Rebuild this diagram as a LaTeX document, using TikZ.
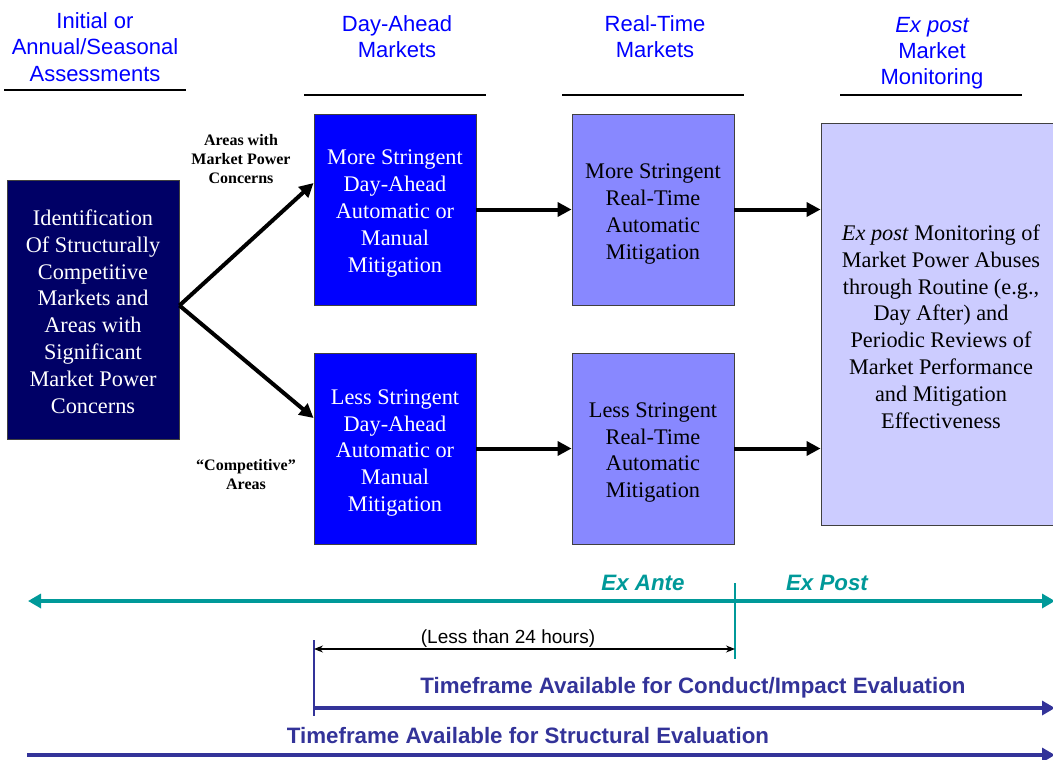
\documentclass[tikz,border=0pt]{standalone}
\usepackage{fontspec}
\setmainfont{Liberation Serif}
\setsansfont{Liberation Sans}
\usetikzlibrary{arrows.meta,calc}
\definecolor{hdrblue}{HTML}{0000FF}
\definecolor{navybox}{HTML}{000066}
\definecolor{dabox}{HTML}{0000FF}
\definecolor{rtbox}{HTML}{8888FF}
\definecolor{epbox}{HTML}{CCCCFF}
\definecolor{tealc}{HTML}{009999}
\definecolor{navyc}{HTML}{333399}
\tikzset{
  hdr/.style={font=\sffamily\fontsize{22}{26.2}\selectfont, text=hdrblue, align=center, inner sep=0pt},
  hdrline/.style={line width=1.3pt, black},
  boxbase/.style={draw=black!75, line width=0.9pt, rectangle, inner sep=0pt},
  boxtext/.style={inner sep=0pt, align=center, font=\rmfamily\fontsize{22.3}{26.8}\selectfont},
  identbox/.style={boxbase, fill=navybox, minimum width=172pt, minimum height=259pt},
  dastep/.style={boxbase, fill=dabox, minimum width=162pt, minimum height=191pt},
  rtstep/.style={boxbase, fill=rtbox, minimum width=162pt, minimum height=191pt},
  epstep/.style={boxbase, fill=epbox, minimum width=240pt, minimum height=402pt},
  sidelbl/.style={font=\rmfamily\bfseries\fontsize{16}{19}\selectfont, align=center, inner sep=0pt},
  flow/.style={line width=4pt, black, -{Triangle[length=14pt,width=14pt]}},
  tealarrow/.style={line width=4pt, tealc, {Triangle[length=13pt,width=14pt]}-{Triangle[length=13pt,width=14pt]}},
  navyarrow/.style={line width=4.5pt, navyc, -{Triangle[length=13pt,width=14pt]}},
  bottomlbl/.style={font=\sffamily\bfseries\fontsize{22.3}{25}\selectfont, text=navyc, inner sep=0pt},
  exlbl/.style={font=\sffamily\bfseries\itshape\fontsize{22.3}{25}\selectfont, text=tealc, inner sep=0pt},
}
\begin{document}
\begin{tikzpicture}[x=1pt,y=-1pt]
\useasboundingbox (0,0) rectangle (1053,760);

% headers
\node[hdr] (h1) at (95,47) {Initial or\\Annual/Seasonal\\Assessments};
\node[hdr] (h2) at (397,37) {Day-Ahead\\Markets};
\node[hdr] (h3) at (655,37) {Real-Time\\Markets};
\node[hdr] (h4) at (932,53) {\itshape Ex post\\Market\\Monitoring};
\draw[hdrline] (4,90) -- (186,90);
\draw[hdrline] (304,95) -- (486,95);
\draw[hdrline] (562,95) -- (744,95);
\draw[hdrline] (840,95) -- (1022,95);

% boxes
\node[identbox] (ident) at (93,309.5) {};
\node[boxtext, text=white] (identT) at (93,311.5) {Identification\\Of Structurally\\Competitive\\Markets and\\Areas with\\Significant\\Market Power\\Concerns};
\node[dastep] (dat) at (395,209.5) {};
\node[boxtext, text=white] (datT) at (395,213.5) {More Stringent\\Day-Ahead\\Automatic or\\Manual\\Mitigation};
\node[dastep] (dab) at (395,448.5) {};
\node[boxtext, text=white] (dabT) at (395,453) {Less Stringent\\Day-Ahead\\Automatic or\\Manual\\Mitigation};
\node[rtstep] (rtt) at (653,209.5) {};
\node[boxtext] (rttT) at (653,214) {More Stringent\\Real-Time\\Automatic\\Mitigation};
\node[rtstep] (rtb) at (653,448.5) {};
\node[boxtext] (rtbT) at (653,452.5) {Less Stringent\\Real-Time\\Automatic\\Mitigation};
\node[epstep] (ep) at (941,324) {};
\node[boxtext] (epT) at (941,326.5) {\textit{Ex post} Monitoring of\\Market Power Abuses\\through Routine (e.g.,\\Day After) and\\Periodic Reviews of\\Market Performance\\and Mitigation\\Effectiveness};

% side labels
\node[sidelbl] (lblt) at (241,159) {Areas with\\Market Power\\Concerns};
\node[sidelbl] (lblb) at (246,474.5) {``Competitive''\\Areas};

% flow arrows
\coordinate (apex) at ([yshift=4pt]ident.east);
\draw[flow] (apex) -- ([yshift=26.5pt]dat.west);
\draw[flow] (apex) -- ([yshift=30.5pt]dab.west);
\draw[flow] (dat.east) -- (rtt.west);
\draw[flow] (dab.east) -- (rtb.west);
\draw[flow] (rtt.east) -- (rtt.east -| ep.west);
\draw[flow] (rtb.east) -- (rtb.east -| ep.west);

% timeline
\coordinate (tl) at (28,601);
\coordinate (tr) at (1055,601);
\draw[tealarrow] (tl) -- (tr);
\node[exlbl] (exa) at (643,583) {Ex Ante};
\node[exlbl] (exp) at (827,583) {Ex Post};
\coordinate (tvt) at (735,583);
\coordinate (tvb) at (735,659);
\draw[tealc, line width=1.3pt] (tvt) -- (tvb);

\coordinate (nvt) at (314,640);
\coordinate (nvb) at (314,716);
\draw[navyc, line width=1.8pt] (nvt) -- (nvb);

\coordinate (hl) at (314,649);
\coordinate (hr) at (735,649);
\draw[black, line width=1.1pt, {Stealth[length=9pt,width=7pt]}-{Stealth[length=9pt,width=7pt]}] (hl) -- (hr);
\node[font=\sffamily\fontsize{19}{22}\selectfont, inner sep=0pt] (lt24) at (508,639) {(Less than 24 hours)};

\coordinate (c1l) at (314,708);
\coordinate (c1r) at (1055,708);
\draw[navyarrow] (c1l) -- (c1r);
\node[bottomlbl] (c1t) at (693,688) {Timeframe Available for Conduct/Impact Evaluation};

\coordinate (c2l) at (27,755);
\coordinate (c2r) at (1055,755);
\draw[navyarrow] (c2l) -- (c2r);
\node[bottomlbl] (c2t) at (528,736) {Timeframe Available for Structural Evaluation};
\end{tikzpicture}
\end{document}
